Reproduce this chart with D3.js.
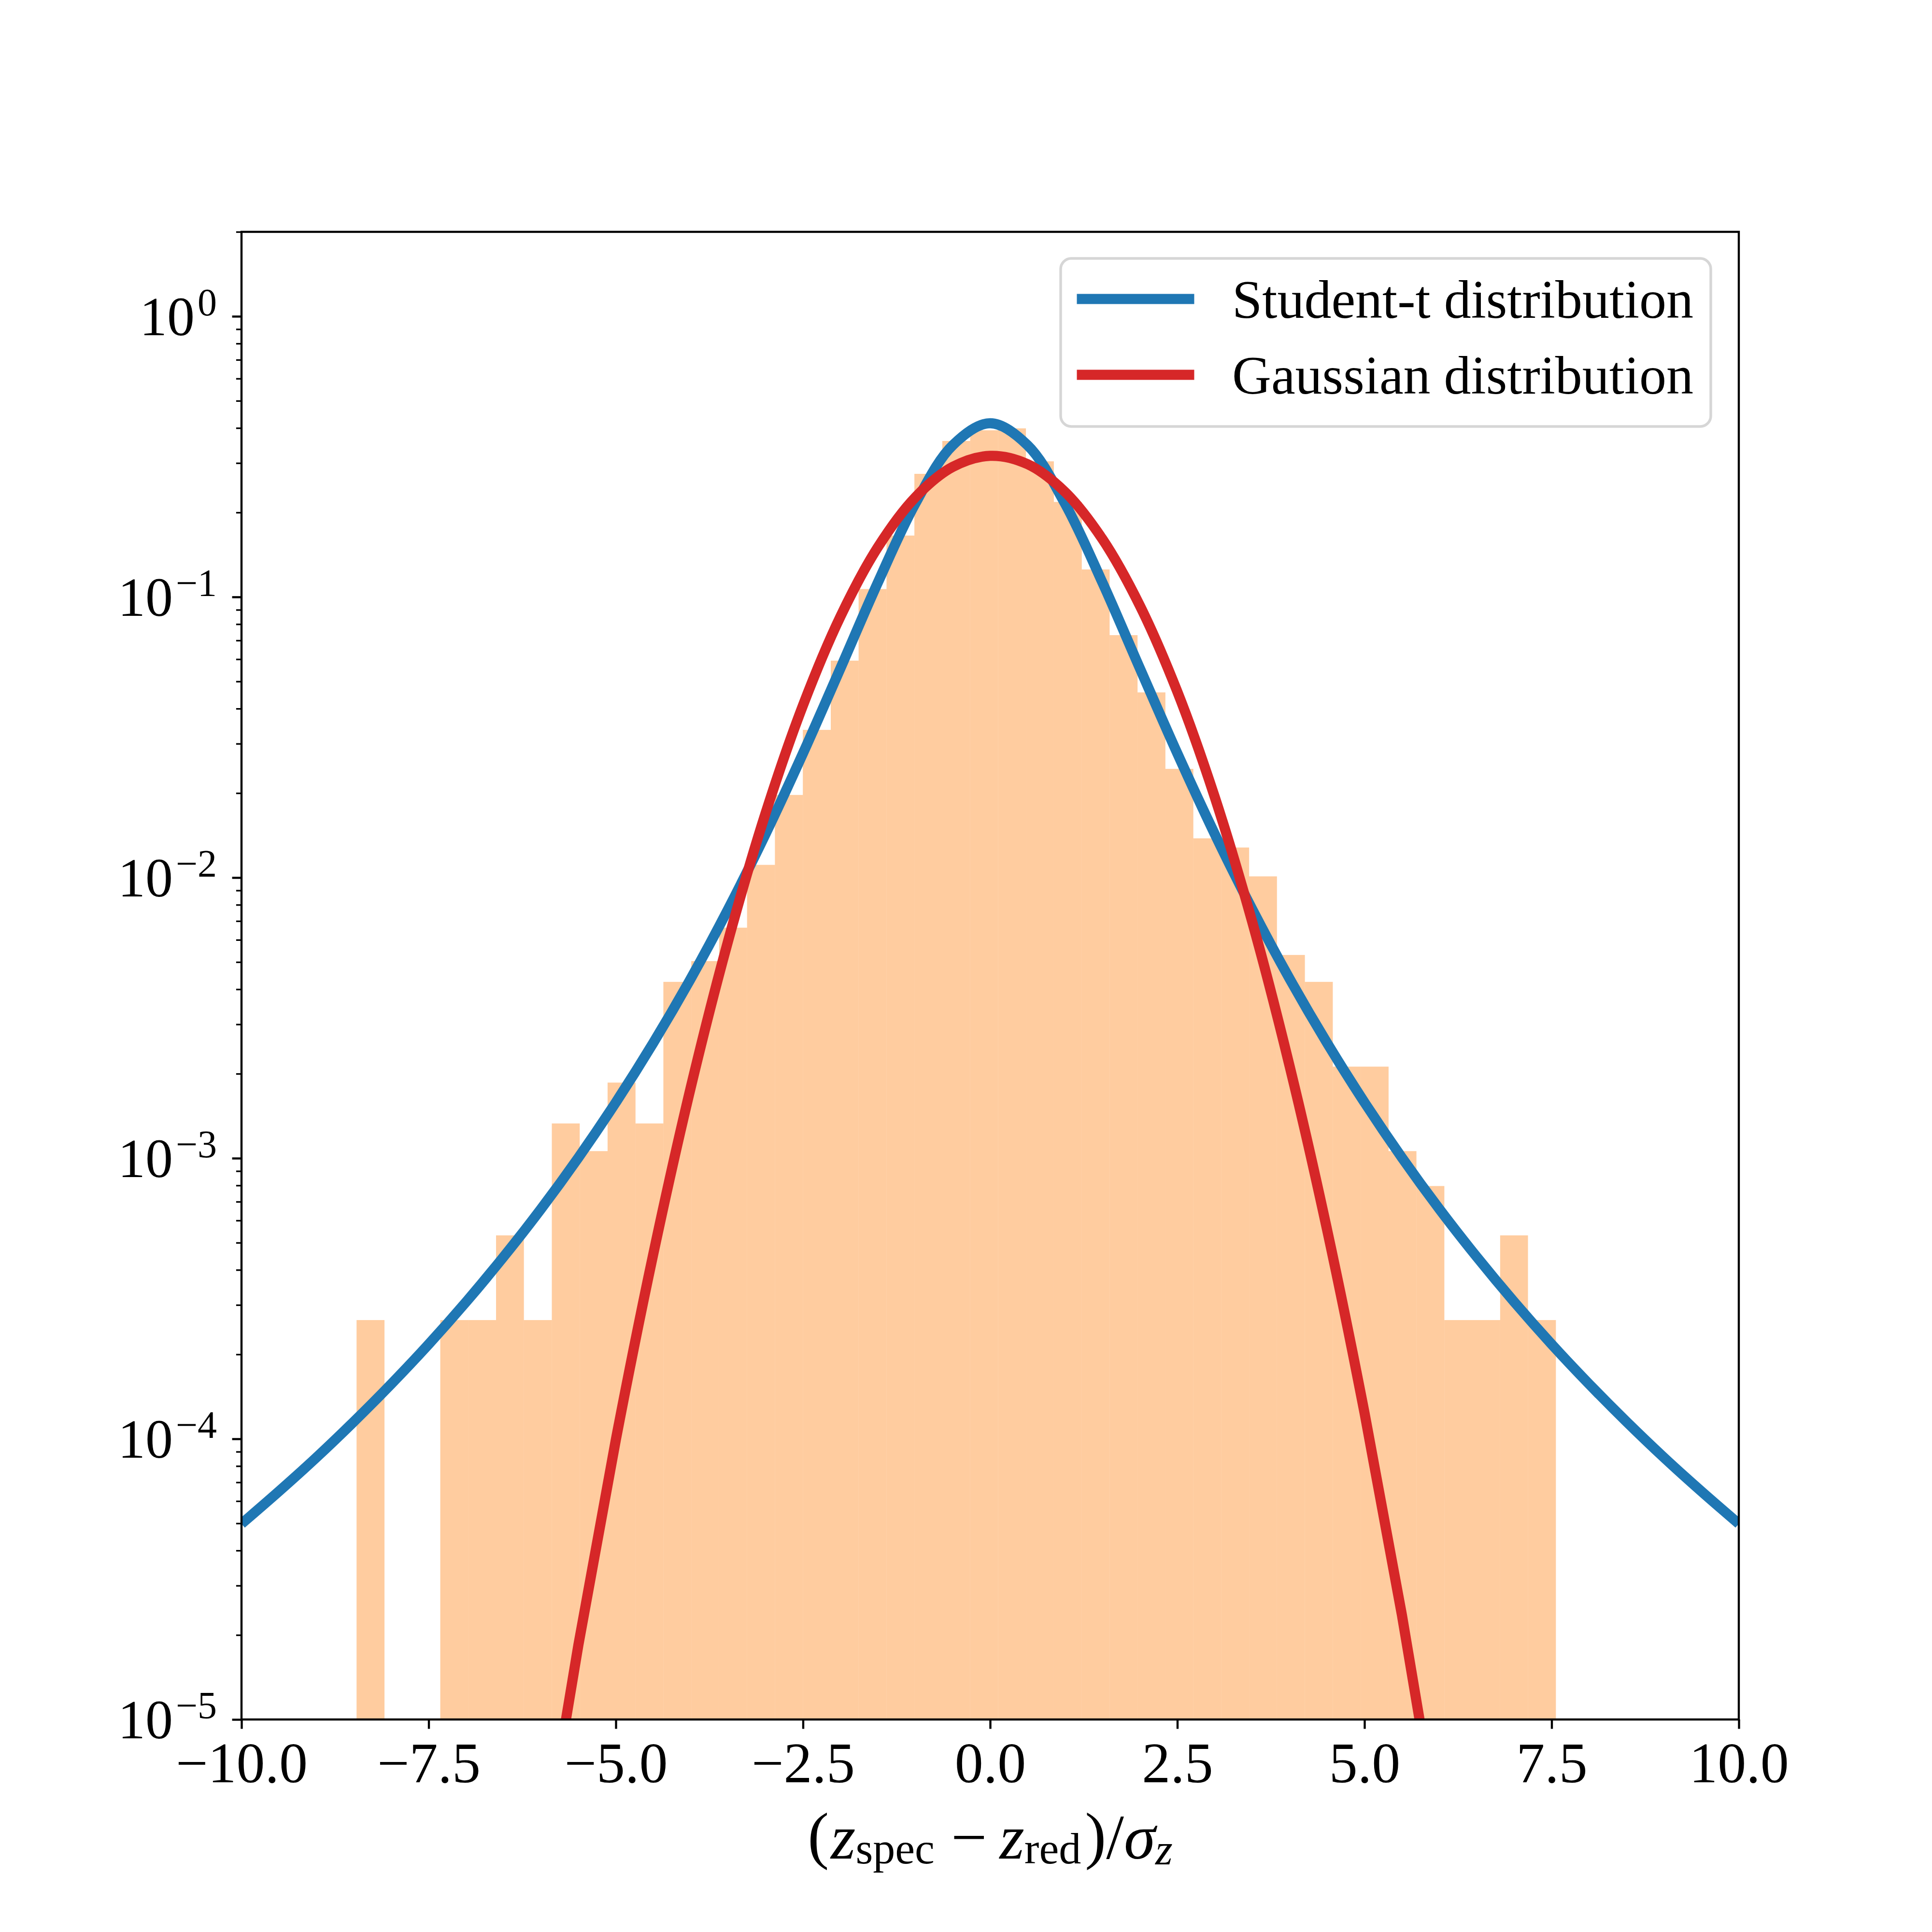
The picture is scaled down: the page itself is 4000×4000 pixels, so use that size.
<!DOCTYPE html>
<html>
<head>
<meta charset="utf-8">
<script src="https://cdn.jsdelivr.net/npm/d3@7"></script>
<style>
    body { margin: 0; background: #ffffff; }
</style>
</head>
<body>
<svg id="chart"></svg>
<script>
// histogram of normalised redshift residuals (density)
const binEdges = [
    -8.463, -8.090, -7.718, -7.345, -6.973, -6.600, -6.228, -5.855, -5.482, -5.110,
    -4.737, -4.365, -3.992, -3.620, -3.247, -2.875, -2.502, -2.129, -1.757, -1.384,
    -1.012, -0.639, -0.267, 0.106, 0.478, 0.851, 1.224, 1.596, 1.969, 2.341,
    2.714, 3.086, 3.459, 3.831, 4.204, 4.577, 4.949, 5.322, 5.694, 6.067,
    6.439, 6.812, 7.184, 7.557,
];
const binDensity = [
    2.65e-4, 0, 0, 2.65e-4, 2.65e-4, 5.31e-4, 2.65e-4, 1.33e-3, 1.06e-3, 1.86e-3,
    1.33e-3, 4.25e-3, 5.04e-3, 6.63e-3, 1.11e-2, 1.97e-2, 3.36e-2, 5.93e-2, 0.1067, 0.1655,
    0.2746, 0.3596, 0.3925, 0.3988, 0.3043, 0.218, 0.1253, 0.0731, 0.0457, 0.0244,
    0.0138, 0.0128, 0.0101, 5.30e-3, 4.25e-3, 2.12e-3, 2.12e-3, 1.06e-3, 7.96e-4, 2.65e-4,
    2.65e-4, 5.31e-4, 2.65e-4,
];

// fitted curves
const studentX = [
    -10, -9.5, -9, -8.5, -8, -7.5, -7, -6.5, -6, -5.5, -5, -4.5, -4, -3.5, -3, -2.5, -2, -1.5, -1, -0.5,
    0, 0.5, 1, 1.5, 2, 2.5, 3, 3.5, 4, 4.5, 5, 5.5, 6, 6.5, 7, 7.5, 8, 8.5, 9, 9.5, 10,
];
const studentY = [
    4.98e-5, 6.50e-5, 8.58e-5, 1.151e-4, 1.568e-4, 2.173e-4, 3.075e-4, 4.45e-4, 6.59e-4, 1.005e-3,
    1.581e-3, 2.575e-3, 4.36e-3, 7.72e-3, 0.01430, 0.02772, 0.05566, 0.1125, 0.2150, 0.3472,
    0.416,
    0.3472, 0.2150, 0.1125, 0.05566, 0.02772, 0.01430, 7.72e-3, 4.36e-3, 2.575e-3, 1.581e-3,
    1.005e-3, 6.59e-4, 4.45e-4, 3.075e-4, 2.173e-4, 1.568e-4, 1.151e-4, 8.58e-5, 6.50e-5, 4.98e-5,
];
const gaussX = [
    -6.5, -6, -5.5, -5, -4.5, -4, -3.5, -3, -2.5, -2, -1.5, -1, -0.5,
    0, 0.5, 1, 1.5, 2, 2.5, 3, 3.5, 4, 4.5, 5, 5.5, 6, 6.5,
];
const gaussY = [
    3.94e-7, 2.92e-6, 1.843e-5, 9.92e-5, 4.55e-4, 1.783e-3, 5.95e-3, 0.01695, 0.04111, 0.08515,
    0.1504, 0.2264, 0.2907, 0.3183, 0.2972, 0.2367, 0.1607, 0.0931, 0.04598, 0.01937,
    6.96e-3, 2.13e-3, 5.57e-4, 1.24e-4, 2.357e-5, 3.81e-6, 5.27e-7,
];

const seriesNames = ['Student-t distribution', 'Gaussian distribution'];
const xTicks = [-10, -7.5, -5, -2.5, 0, 2.5, 5, 7.5, 10];
const yTicks = [1e-5, 1e-4, 1e-3, 1e-2, 1e-1, 1];
const yTickExponents = ['\u22125', '\u22124', '\u22123', '\u22122', '\u22121', '0'];

const W = 4000;
const H = 4000;
const box = { left: 500, right: 3600, top: 480, bottom: 3560 };
const FONT = '"Liberation Serif", "DejaVu Serif", serif';
const FS = 112;
const TICK_FS = 118;
const LABEL_FS = 132;
const SUB_FS = 92;
const BLUE = '#1f77b4';
const RED = '#d62728';
const ORANGE = '#ff7f0e';

const svg = d3.select('#chart')
    .attr('width', W)
    .attr('height', H)
    .style('font-family', FONT);

svg.append('rect').attr('width', W).attr('height', H).attr('fill', '#ffffff');

const x = d3.scaleLinear().domain([-10, 10]).range([box.left, box.right]);
const y = d3.scaleLog().domain([1e-5, 2]).range([box.bottom, box.top]);

svg.append('clipPath')
    .attr('id', 'plot-clip')
    .append('rect')
    .attr('x', box.left)
    .attr('y', box.top)
    .attr('width', box.right - box.left)
    .attr('height', box.bottom - box.top);

const plot = svg.append('g').attr('clip-path', 'url(#plot-clip)');

// histogram bars
const bins = binDensity
    .map((d, i) => ({ x0: binEdges[i], x1: binEdges[i + 1], d }))
    .filter((b) => b.d > 0);

plot.append('g')
    .selectAll('rect')
    .data(bins)
    .join('rect')
    .attr('x', (b) => x(b.x0))
    .attr('width', (b) => x(b.x1) - x(b.x0))
    .attr('y', (b) => y(b.d))
    .attr('height', (b) => y(1e-5) - y(b.d))
    .attr('fill', ORANGE)
    .attr('fill-opacity', 0.4);

const line = d3.line()
    .x((p) => x(p[0]))
    .y((p) => y(p[1]))
    .curve(d3.curveCatmullRom.alpha(0.5));

plot.append('path')
    .attr('d', line(d3.zip(studentX, studentY)))
    .attr('fill', 'none')
    .attr('stroke', BLUE)
    .attr('stroke-width', 21)
    .attr('stroke-linejoin', 'round');

plot.append('path')
    .attr('d', line(d3.zip(gaussX, gaussY)))
    .attr('fill', 'none')
    .attr('stroke', RED)
    .attr('stroke-width', 21)
    .attr('stroke-linejoin', 'round');

// x axis
const xAxis = svg.append('g')
    .attr('transform', `translate(0,${box.bottom})`)
    .call(d3.axisBottom(x)
        .tickValues(xTicks)
        .tickFormat(d3.format('.1f'))
        .tickSizeInner(19.4)
        .tickSizeOuter(0)
        .tickPadding(19.4));

xAxis.select('.domain').remove();
xAxis.selectAll('.tick line').attr('stroke', '#000').attr('stroke-width', 4.4);
xAxis.selectAll('.tick text')
    .attr('y', 130)
    .attr('dy', null)
    .attr('fill', '#000')
    .style('font-family', FONT)
    .style('font-size', `${TICK_FS}px`);

// y axis, minor ticks first
const yMinor = [];
for (let e = -5; e <= 0; e += 1)
{
    for (let k = 2; k <= 9; k += 1)
    {
        const v = k * (10 ** e);
        if (v <= 2) yMinor.push(v);
    }
}

const yMinorAxis = svg.append('g')
    .attr('transform', `translate(${box.left},0)`)
    .call(d3.axisLeft(y).tickValues(yMinor).tickFormat('').tickSizeInner(11.1).tickSizeOuter(0));
yMinorAxis.select('.domain').remove();
yMinorAxis.selectAll('.tick line').attr('stroke', '#000').attr('stroke-width', 3.3);

const yAxis = svg.append('g')
    .attr('transform', `translate(${box.left},0)`)
    .call(d3.axisLeft(y).tickValues(yTicks).tickFormat('').tickSizeInner(19.4).tickSizeOuter(0));
yAxis.select('.domain').remove();
yAxis.selectAll('.tick line').attr('stroke', '#000').attr('stroke-width', 4.4);

const yLabels = svg.append('g')
    .selectAll('text')
    .data(yTicks)
    .join('text')
    .attr('x', 449)
    .attr('y', (v) => y(v) + 39)
    .attr('text-anchor', 'end')
    .attr('fill', '#000')
    .style('font-size', `${TICK_FS - 4}px`);

yLabels.append('tspan').text('10');
yLabels.append('tspan')
    .attr('dx', 6)
    .attr('dy', -41)
    .style('font-size', '80px')
    .text((v, i) => yTickExponents[i]);

// spines
svg.append('rect')
    .attr('x', box.left)
    .attr('y', box.top)
    .attr('width', box.right - box.left)
    .attr('height', box.bottom - box.top)
    .attr('fill', 'none')
    .attr('stroke', '#000')
    .attr('stroke-width', 4.4);

// x label: (z_spec - z_red) / sigma_z
const xlabel = svg.append('text')
    .attr('x', (box.left + box.right) / 2)
    .attr('y', 3848)
    .attr('text-anchor', 'middle')
    .attr('fill', '#000')
    .style('font-size', `${LABEL_FS}px`);

xlabel.append('tspan').attr('dy', -4).text('(');
xlabel.append('tspan').attr('dy', 4).attr('dx', 4).style('font-style', 'italic').text('z');
xlabel.append('tspan').attr('dy', 10).style('font-size', `${SUB_FS}px`).text('spec');
xlabel.append('tspan').attr('dy', -10).attr('dx', 34).text('\u2212');
xlabel.append('tspan').attr('dx', 26).style('font-style', 'italic').text('z');
xlabel.append('tspan').attr('dy', 10).style('font-size', `${SUB_FS}px`).text('red');
xlabel.append('tspan').attr('dy', -14).attr('dx', 8).text(')');
xlabel.append('tspan').attr('dy', 4).text('/');
xlabel.append('tspan').style('font-style', 'italic').text('\u03c3');
xlabel.append('tspan').attr('dy', 12).style('font-size', `${SUB_FS}px`).style('font-style', 'italic').text('z');

// legend
const legend = svg.append('g');
legend.append('rect')
    .attr('x', 2196)
    .attr('y', 535)
    .attr('width', 1346)
    .attr('height', 348)
    .attr('rx', 22)
    .attr('fill', '#ffffff')
    .attr('fill-opacity', 0.8)
    .attr('stroke', '#d6d6d6')
    .attr('stroke-width', 5.5);

const legendRows = legend.selectAll('g.row')
    .data(seriesNames)
    .join('g')
    .attr('class', 'row')
    .attr('transform', (d, i) => `translate(0,${619 + i * 157})`);

legendRows.append('line')
    .attr('x1', 2240)
    .attr('x2', 2462)
    .attr('stroke', (d, i) => [BLUE, RED][i])
    .attr('stroke-width', 21)
    .attr('stroke-linecap', 'square');

legendRows.append('text')
    .attr('x', 2551)
    .attr('y', 39)
    .attr('fill', '#000')
    .style('font-size', `${FS}px`)
    .text((d) => d);
</script>
</body>
</html>
